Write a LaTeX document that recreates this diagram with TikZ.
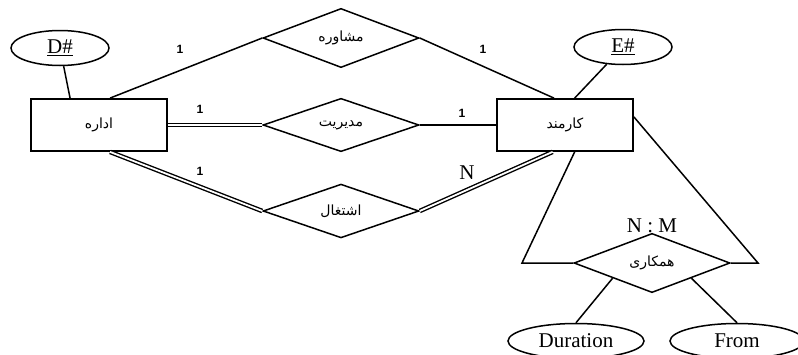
\documentclass[tikz,border=0pt]{standalone}
\usepackage{fontspec}
\setmainfont{Liberation Serif}
\newfontfamily\arabicfont[Script=Arabic]{DejaVu Sans}
\newfontfamily\lblfont{Liberation Sans}
\TeXXeTstate=1
\usetikzlibrary{shapes.geometric,calc}
\tikzset{
  ent/.style={draw, line width=1.8pt, minimum width=136pt, minimum height=52pt, inner sep=0pt, font=\arabicfont\fontsize{14}{16}\selectfont},
  rel/.style={draw, line width=1.5pt, shape=diamond, minimum width=156pt, minimum height=51pt, inner sep=0pt, font=\arabicfont\fontsize{14}{16}\selectfont},
  attr/.style={draw, line width=1.5pt, shape=ellipse, minimum width=98pt, minimum height=35pt, inner sep=0pt, font=\fontsize{21}{23}\selectfont},
  conn/.style={line width=1.5pt},
  dconn/.style={line width=1.4pt, double, double distance=1.8pt},
  card/.style={font=\lblfont\bfseries\fontsize{12}{14}\selectfont},
  cardn/.style={font=\fontsize{21}{23}\selectfont}
}
\begin{document}
\begin{tikzpicture}[x=1pt,y=-1pt]
\clip (0,0) rectangle (798,354);
\fill[white] (0,0) rectangle (798,354);
% entities
\node[ent] (ed) at (99,125) {\beginR اداره\endR};
\node[ent] (km) at (565,125) {\beginR کارمند\endR};
% relationships
\node[rel] (mo) at (341,38) {\beginR مشاوره\endR};
\node[rel] (md) at (341,125) {\beginR مدیریت\endR};
\node[rel] (es) at (341,211) {\beginR اشتغال\endR};
\node[rel] (hm) at (652,263) {\beginR همکاری\endR};
% attributes
\node[attr] (d) at (60,48) {\underline{D\#}};
\node[attr] (e) at (623,47) {\underline{E\#}};
\node[attr, minimum width=136pt] (du) at (576,341) {Duration};
\node[attr, minimum width=134pt] (fr) at (737,341) {From};
% helper coordinates
\coordinate (tl) at (522,263);
\coordinate (tr) at (758,263);
% connectors
\draw[conn] (d) -- ($(ed.north west)!0.29!(ed.north east)$);
\draw[conn] (e) -- ($(km.north west)!0.57!(km.north east)$);
\draw[conn] ($(ed.north west)!0.58!(ed.north east)$) -- (mo.west);
\draw[conn] (mo.east) -- ($(km.north west)!0.42!(km.north east)$);
\draw[dconn] (ed.east) -- (md.west);
\draw[conn] (md.east) -- (km.west);
\draw[dconn] ($(ed.south west)!0.58!(ed.south east)$) -- (es.west);
\draw[dconn] (es.east) -- ($(km.south west)!0.41!(km.south east)$);
\draw[conn] ($(km.south west)!0.57!(km.south east)$) -- (tl) -- (hm.west);
\draw[conn] ($(km.north east)!0.35!(km.south east)$) -- (tr) -- (hm.east);
\draw[conn] ($(hm.west)!0.5!(hm.south)$) -- (du.north);
\draw[conn] ($(hm.east)!0.5!(hm.south)$) -- (fr.north);
% cardinalities
\node[card] (c1) at (180,49) {1};
\node[card] (c2) at (483,49) {1};
\node[card] (c3) at (200,109) {1};
\node[card] (c4) at (462,113) {1};
\node[card] (c5) at (200,171) {1};
\node[cardn] (c6) at (467,173) {N};
\node[cardn] (c7) at (652,226) {N : M};
\end{tikzpicture}
\end{document}
